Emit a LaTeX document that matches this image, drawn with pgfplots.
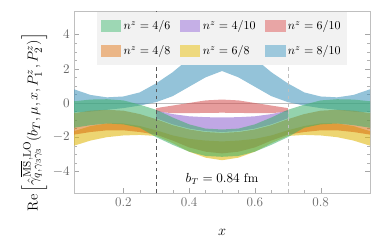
\documentclass[border=0pt]{standalone}
\usepackage{pgfplots}
\pgfplotsset{compat=1.18}
\usepackage{amsmath}
\definecolor{cgreen}{RGB}{60,175,105}
\definecolor{cpurple}{RGB}{140,95,205}
\definecolor{cred}{RGB}{210,75,75}
\definecolor{corange}{RGB}{215,110,15}
\definecolor{cyellow}{RGB}{225,185,20}
\definecolor{cblue}{RGB}{60,145,185}
\pgfplotsset{swatch/.style={legend image code/.code={\fill[##1, draw=none] (0pt,-5pt) rectangle (17pt,5pt);}}}
\begin{document}
\begin{tikzpicture}
\begin{axis}[
  scale only axis, width=246.7pt, height=151.7pt,
  at={(0,0)}, anchor=south west,
  xmin=0.05, xmax=0.95, ymin=-5.27, ymax=5.38,
  xtick={0.2,0.4,0.6,0.8}, ytick={-4,-2,0,2,4},
  xticklabels={0.2,0.4,0.6,0.8},
  minor x tick num=3, minor y tick num=3,
  tick align=inside, axis line style={black!25},
  major tick style={black!35}, minor tick style={black!30},
  major tick length=4pt, minor tick length=2.5pt,
  tick label style={black!60, font=\fontsize{11}{13}\selectfont},
  xlabel={$x$},
  xlabel style={at={(axis description cs:0.5,-0.214)}, anchor=center, font=\fontsize{13}{15}\selectfont},
  ylabel={$\mathrm{Re}\left[\hat{\gamma}^{\overline{\mathrm{MS}},\mathrm{LO}}_{q,\gamma_3\gamma_3}(b_T,\mu,x,P_1^z,P_2^z)\right]$},
  ylabel style={at={(axis description cs:-0.135,0.39)}, anchor=center, rotate=0, font=\fontsize{13}{15.5}\selectfont},
  legend columns=3,
  legend style={at={(0.5,0.995)}, anchor=north, fill=black!5, draw=none,
    /tikz/every even column/.append style={column sep=6pt},
    row sep=8pt, inner xsep=3pt, inner ysep=5pt, font=\normalsize},
  legend cell align=left,
]
\addplot[black!25, forget plot] coordinates {(0.05,0) (0.95,0)};
% legend images
\addlegendimage{swatch, fill=cgreen!50, draw=none}\addlegendentry{$n^z=4/6$}
\addlegendimage{swatch, fill=cpurple!50, draw=none}\addlegendentry{$n^z=4/10$}
\addlegendimage{swatch, fill=cred!50, draw=none}\addlegendentry{$n^z=6/10$}
\addlegendimage{swatch, fill=corange!50, draw=none}\addlegendentry{$n^z=4/8$}
\addlegendimage{swatch, fill=cyellow!55, draw=none}\addlegendentry{$n^z=6/8$}
\addlegendimage{swatch, fill=cblue!50, draw=none}\addlegendentry{$n^z=8/10$}
% blue 8/10
\addplot[fill=cblue, fill opacity=0.55, draw=none, forget plot] coordinates {
(0.05,0.80)(0.10,0.47)(0.15,0.33)(0.20,0.38)(0.25,0.62)(0.30,1.15)(0.35,1.80)(0.40,2.60)(0.45,3.40)(0.50,3.70)(0.55,3.40)(0.60,2.60)(0.65,1.80)(0.70,1.15)(0.75,0.62)(0.80,0.38)(0.85,0.33)(0.90,0.47)(0.95,0.80)
(0.95,-0.55)(0.90,-0.50)(0.85,-0.40)(0.80,-0.30)(0.75,-0.15)(0.70,0.05)(0.65,0.40)(0.60,0.95)(0.55,1.50)(0.50,1.87)(0.45,1.50)(0.40,0.95)(0.35,0.40)(0.30,0.05)(0.25,-0.15)(0.20,-0.30)(0.15,-0.40)(0.10,-0.50)(0.05,-0.55)
} --cycle;
% red 6/10
\addplot[fill=cred, fill opacity=0.55, draw=none, forget plot] coordinates {
(0.30,-0.30)(0.35,-0.15)(0.40,0.00)(0.45,0.15)(0.50,0.20)(0.55,0.15)(0.60,0.00)(0.65,-0.15)(0.70,-0.30)
(0.70,-0.50)(0.65,-0.60)(0.60,-0.60)(0.55,-0.58)(0.50,-0.57)(0.45,-0.58)(0.40,-0.60)(0.35,-0.60)(0.30,-0.50)
} --cycle;
% purple 4/10
\addplot[fill=cpurple, fill opacity=0.55, draw=none, forget plot] coordinates {
(0.30,-0.45)(0.35,-0.65)(0.40,-0.78)(0.45,-0.83)(0.50,-0.85)(0.55,-0.83)(0.60,-0.78)(0.65,-0.65)(0.70,-0.45)
(0.70,-0.90)(0.65,-1.25)(0.60,-1.50)(0.55,-1.65)(0.50,-1.70)(0.45,-1.65)(0.40,-1.50)(0.35,-1.25)(0.30,-0.90)
} --cycle;
% yellow 6/8
\addplot[fill=cyellow, fill opacity=0.6, draw=none, forget plot] coordinates {
(0.05,-1.65)(0.10,-1.35)(0.15,-1.20)(0.20,-1.20)(0.25,-1.35)(0.30,-1.60)(0.35,-1.90)(0.40,-2.10)(0.45,-2.20)(0.50,-2.25)(0.55,-2.20)(0.60,-2.10)(0.65,-1.90)(0.70,-1.60)(0.75,-1.35)(0.80,-1.20)(0.85,-1.20)(0.90,-1.35)(0.95,-1.65)
(0.95,-2.50)(0.90,-2.20)(0.85,-2.00)(0.80,-1.90)(0.75,-1.87)(0.70,-1.93)(0.65,-2.35)(0.60,-2.85)(0.55,-3.20)(0.50,-3.35)(0.45,-3.20)(0.40,-2.85)(0.35,-2.35)(0.30,-1.93)(0.25,-1.87)(0.20,-1.90)(0.15,-2.00)(0.10,-2.20)(0.05,-2.50)
} --cycle;
% orange 4/8
\addplot[fill=corange, fill opacity=0.55, draw=none, forget plot] coordinates {
(0.05,-0.60)(0.10,-0.45)(0.15,-0.40)(0.20,-0.45)(0.25,-0.65)(0.30,-0.95)(0.35,-1.30)(0.40,-1.55)(0.45,-1.70)(0.50,-1.75)(0.55,-1.70)(0.60,-1.55)(0.65,-1.30)(0.70,-0.95)(0.75,-0.65)(0.80,-0.45)(0.85,-0.40)(0.90,-0.45)(0.95,-0.60)
(0.95,-1.85)(0.90,-1.70)(0.85,-1.60)(0.80,-1.60)(0.75,-1.70)(0.70,-1.85)(0.65,-2.20)(0.60,-2.60)(0.55,-2.85)(0.50,-2.95)(0.45,-2.85)(0.40,-2.60)(0.35,-2.20)(0.30,-1.85)(0.25,-1.70)(0.20,-1.60)(0.15,-1.60)(0.10,-1.70)(0.05,-1.85)
} --cycle;
% green 4/6
\addplot[fill=cgreen, fill opacity=0.55, draw=none, forget plot] coordinates {
(0.05,0.10)(0.10,0.20)(0.15,0.22)(0.20,0.15)(0.25,-0.10)(0.30,-0.40)(0.35,-0.85)(0.40,-1.25)(0.45,-1.50)(0.50,-1.55)(0.55,-1.50)(0.60,-1.25)(0.65,-0.85)(0.70,-0.40)(0.75,-0.10)(0.80,0.15)(0.85,0.22)(0.90,0.20)(0.95,0.10)
(0.95,-1.45)(0.90,-1.30)(0.85,-1.20)(0.80,-1.25)(0.75,-1.45)(0.70,-2.00)(0.65,-2.45)(0.60,-2.85)(0.55,-3.10)(0.50,-3.15)(0.45,-3.10)(0.40,-2.85)(0.35,-2.45)(0.30,-2.00)(0.25,-1.45)(0.20,-1.25)(0.15,-1.20)(0.10,-1.30)(0.05,-1.45)
} --cycle;
% dashed lines
\addplot[black!65, dashed, forget plot] coordinates {(0.3,-5.27) (0.3,5.38)};
\addplot[black!25, dashed, forget plot] coordinates {(0.7,-5.27) (0.7,5.38)};
\node[font=\fontsize{10.5}{12}\selectfont] at (axis cs:0.5,-4.45) {$b_T=0.84$ fm};
\end{axis}
\pgfresetboundingbox
\useasboundingbox (-61.7pt,-41.7pt) rectangle (256.7pt,160.9pt);
\end{tikzpicture}
\end{document}
